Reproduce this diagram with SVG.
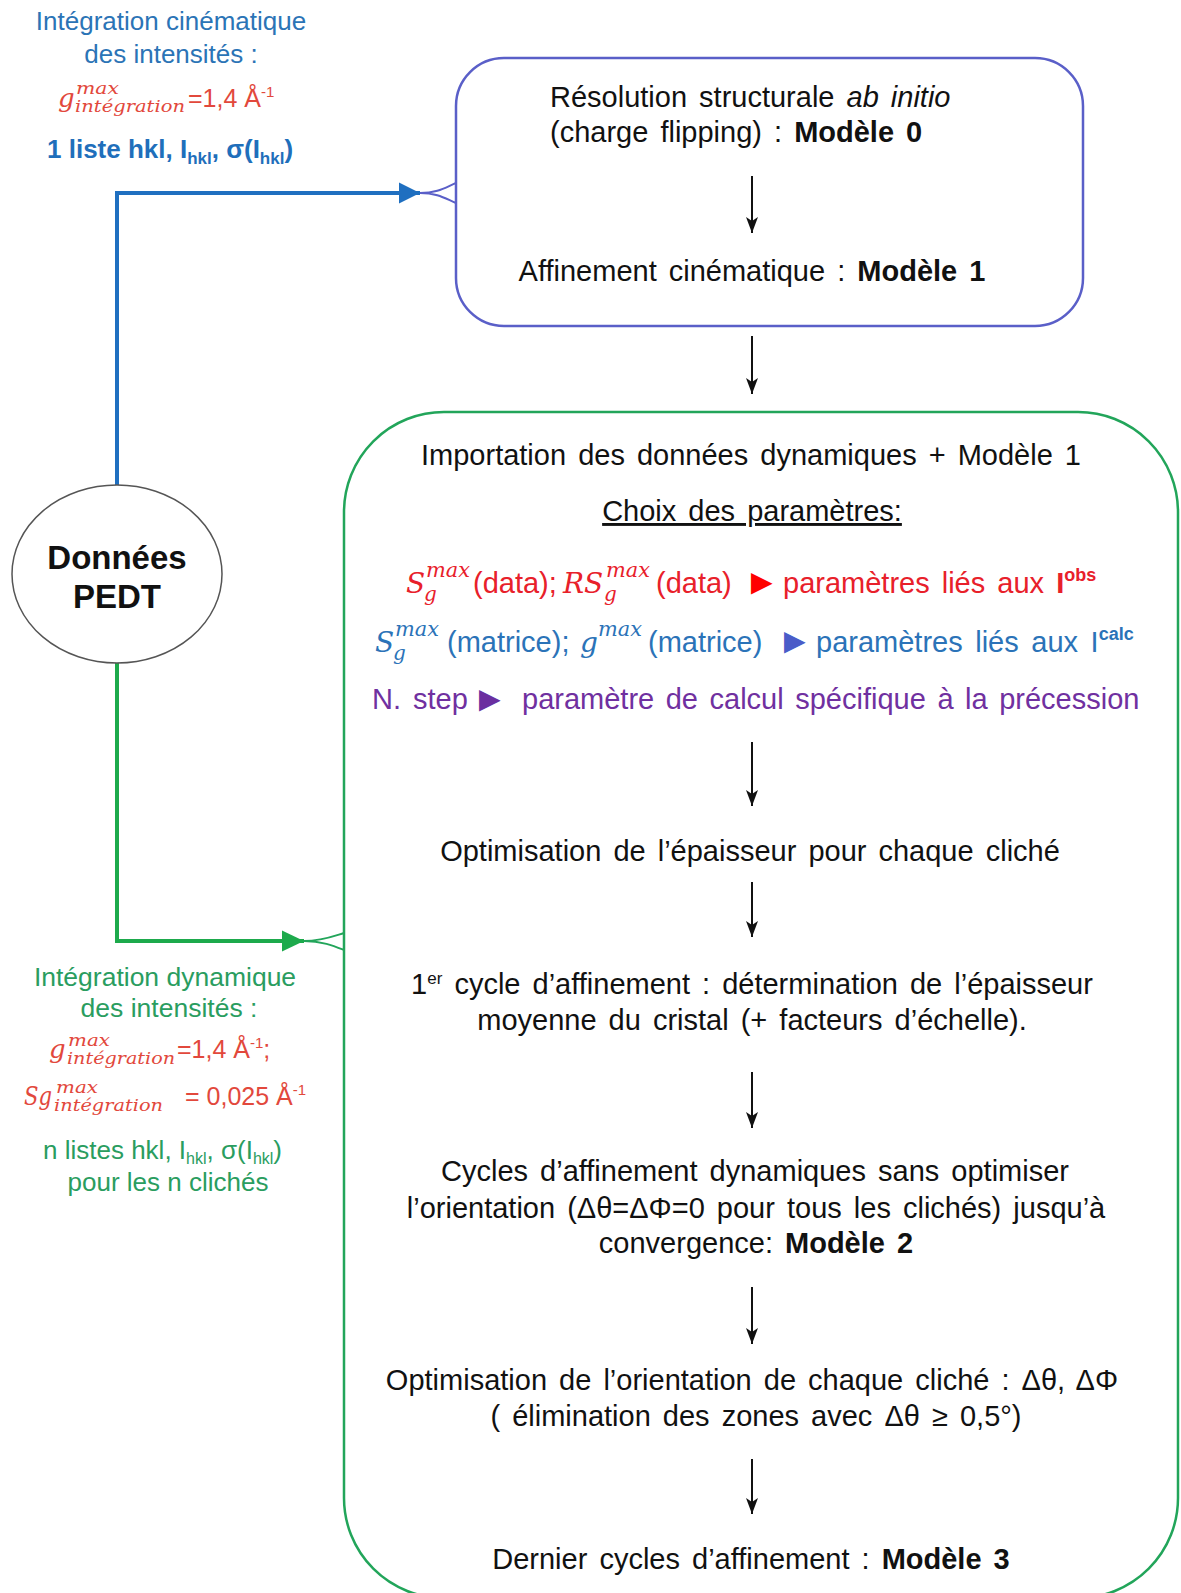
<svg xmlns="http://www.w3.org/2000/svg" width="1181" height="1593" viewBox="0 0 1181 1593">
<defs>
<style>
.t{font-family:"Liberation Sans",Arial,sans-serif;font-size:29px;word-spacing:4px}
.k{fill:#111}
.c{text-anchor:middle}
.b{font-weight:bold}
.m{font-family:"DejaVu Serif","Liberation Serif",serif;font-style:italic}
.lb{font-family:"Liberation Sans",Arial,sans-serif;fill:#2b74b6}
.lg{font-family:"Liberation Sans",Arial,sans-serif;fill:#2a9d5f}
.red{fill:#e2483c}
.rd{fill:#e8202a}
.bl{fill:#2b73b8}
.pu{fill:#7030a0}
.tri{font-family:"Liberation Sans",Arial,sans-serif;font-size:36px}
.arr{stroke:#111;stroke-width:2;fill:none;marker-end:url(#ah)}
</style>
<marker id="ah" markerUnits="userSpaceOnUse" viewBox="-1 -7 18 14" markerWidth="18" markerHeight="14" refX="16" refY="0" orient="auto">
<path d="M0,-6 L16,0 L0,6 L4,0 Z" fill="#111"/>
</marker>
<marker id="bh" markerUnits="userSpaceOnUse" viewBox="0 -11 22 22" markerWidth="22" markerHeight="22" refX="21" refY="0" orient="auto">
<path d="M0,-10.5 L21,0 L0,10.5 Z" fill="#1f6fc0"/>
</marker>
<marker id="gh" markerUnits="userSpaceOnUse" viewBox="0 -11 23 22" markerWidth="23" markerHeight="22" refX="22" refY="0" orient="auto">
<path d="M0,-10.5 L22,0 L0,10.5 Z" fill="#1daa4c"/>
</marker>
</defs>
<rect width="1181" height="1593" fill="#fff"/>

<g id="connectors">
<polyline points="117,486 117,193 420,193" fill="none" stroke="#1f6fc0" stroke-width="4" marker-end="url(#bh)"/>
<path d="M420,193 C438,193 446,187 456,183 M420,193 C438,193 446,199 456,203" fill="none" stroke="#5a5fc8" stroke-width="2"/>
<polyline points="117,662 117,941 304,941" fill="none" stroke="#1daa4c" stroke-width="4" marker-end="url(#gh)"/>
<path d="M304,941 C322,941 334,936 344,933 M304,941 C322,941 334,946 344,950" fill="none" stroke="#22a55a" stroke-width="2"/>
<line class="arr" x1="752" y1="336" x2="752" y2="394"/>
</g>

<g id="node-pedt">
<ellipse cx="117" cy="574" rx="105" ry="89" fill="#fff" stroke="#555" stroke-width="1.5"/>
<text class="t k b c" x="117" y="569" style="font-size:33px">Données</text>
<text class="t k b c" x="117" y="608" style="font-size:33px">PEDT</text>
</g>

<g id="label-cinematique">
<text class="lb c" x="171" y="30" style="font-size:26px">Intégration cinématique</text>
<text class="lb c" x="171" y="63" style="font-size:26px">des intensités :</text>
<text class="m red" x="58" y="107" style="font-size:26px">g</text>
<text class="m red" x="76" y="94" style="font-size:17px" textLength="43" lengthAdjust="spacingAndGlyphs">max</text>
<text class="m red" x="75" y="112" style="font-size:17px" textLength="110" lengthAdjust="spacingAndGlyphs">intégration</text>
<text class="lb red" x="188" y="107" style="font-size:25px">=1,4 Å<tspan font-size="15" dy="-10">-1</tspan></text>
<text class="lb b" x="47" y="158" style="font-size:26px;fill:#1f6fbb">1 liste hkl, I<tspan font-size="17" dy="6">hkl</tspan><tspan dy="-6">, σ(I</tspan><tspan font-size="17" dy="6">hkl</tspan><tspan dy="-6">)</tspan></text>
</g>

<g id="label-dynamique">
<text class="lg c" x="165" y="986" style="font-size:26.5px">Intégration dynamique</text>
<text class="lg c" x="169" y="1017" style="font-size:26.5px">des intensités :</text>
<text class="m red" x="49" y="1058" style="font-size:26px">g</text>
<text class="m red" x="68" y="1046" style="font-size:17px" textLength="42" lengthAdjust="spacingAndGlyphs">max</text>
<text class="m red" x="67" y="1064" style="font-size:17px" textLength="108" lengthAdjust="spacingAndGlyphs">intégration</text>
<text class="lg red" x="177" y="1058" style="font-size:25px">=1,4 Å<tspan font-size="15" dy="-10">-1</tspan><tspan dy="10">;</tspan></text>
<text class="m red" x="24" y="1105" style="font-size:26px" textLength="28" lengthAdjust="spacingAndGlyphs">Sg</text>
<text class="m red" x="56" y="1093" style="font-size:17px" textLength="42" lengthAdjust="spacingAndGlyphs">max</text>
<text class="m red" x="54" y="1111" style="font-size:17px" textLength="109" lengthAdjust="spacingAndGlyphs">intégration</text>
<text class="lg red" x="185" y="1105" style="font-size:25px">= 0,025 Å<tspan font-size="15" dy="-10">-1</tspan></text>
<text class="lg" x="43" y="1159" style="font-size:26px">n listes hkl, I<tspan font-size="16" dy="5">hkl</tspan><tspan dy="-5">, σ(I</tspan><tspan font-size="16" dy="5">hkl</tspan><tspan dy="-5">)</tspan></text>
<text class="lg c" x="168" y="1191" style="font-size:26px">pour les n clichés</text>
</g>

<g id="node-cinematique">
<rect x="456" y="58" width="627" height="268" rx="48" fill="none" stroke="#5a5fc8" stroke-width="2.5"/>
<text class="t k" x="550" y="107">Résolution structurale <tspan font-style="italic">ab initio</tspan></text>
<text class="t k" x="550" y="142">(charge flipping) : <tspan class="b">Modèle 0</tspan></text>
<line class="arr" x1="752" y1="176" x2="752" y2="233"/>
<text class="t k c" x="752" y="281">Affinement cinématique : <tspan class="b">Modèle 1</tspan></text>
</g>

<g id="node-dynamique">
<rect x="344" y="412" width="834" height="1186" rx="100" fill="none" stroke="#22a55a" stroke-width="2.5"/>
<text class="t k c" x="751" y="465">Importation des données dynamiques + Modèle 1</text>
<text class="t k c" x="752" y="521" text-decoration="underline">Choix des paramètres:</text>

<text class="m rd" x="406" y="593" style="font-size:28px">S</text>
<text class="m rd" x="426" y="577" style="font-size:20px" textLength="44" lengthAdjust="spacingAndGlyphs">max</text>
<text class="m rd" x="424" y="601" style="font-size:20px">g</text>
<text class="t rd" x="473" y="593">(data);</text>
<text class="m rd" x="563" y="593" style="font-size:28px">RS</text>
<text class="m rd" x="606" y="577" style="font-size:20px" textLength="44" lengthAdjust="spacingAndGlyphs">max</text>
<text class="m rd" x="604" y="601" style="font-size:20px">g</text>
<text class="t rd" x="656" y="593">(data)</text>
<text class="tri" x="744" y="594" style="fill:#ff0000">►</text>
<text class="t rd" x="783" y="593" style="word-spacing:4px">paramètres liés aux <tspan class="b">I</tspan><tspan class="b" font-size="18" dy="-12">obs</tspan></text>

<text class="m bl" x="375" y="652" style="font-size:28px">S</text>
<text class="m bl" x="395" y="636" style="font-size:20px" textLength="44" lengthAdjust="spacingAndGlyphs">max</text>
<text class="m bl" x="393" y="660" style="font-size:20px">g</text>
<text class="t bl" x="447" y="652">(matrice);</text>
<text class="m bl" x="580" y="652" style="font-size:28px">g</text>
<text class="m bl" x="598" y="636" style="font-size:20px" textLength="44" lengthAdjust="spacingAndGlyphs">max</text>
<text class="t bl" x="648" y="652">(matrice)</text>
<text class="tri" x="777" y="653" style="fill:#4a5cc8">►</text>
<text class="t bl" x="816" y="652" style="word-spacing:4.5px">paramètres liés aux I<tspan class="b" font-size="18" dy="-12">calc</tspan></text>

<text class="t pu" x="372" y="709">N. step</text>
<text class="tri" x="472" y="711" style="fill:#6a2fa0">►</text>
<text class="t pu" x="522" y="709" style="word-spacing:3.5px">paramètre de calcul spécifique à la précession</text>

<line class="arr" x1="752" y1="742" x2="752" y2="806"/>
<text class="t k c" x="750" y="861">Optimisation de l’épaisseur pour chaque cliché</text>
<line class="arr" x1="752" y1="882" x2="752" y2="937"/>
<text class="t k c" x="752" y="994">1<tspan font-size="17" dy="-10">er</tspan><tspan dy="10"> cycle d’affinement : détermination de l’épaisseur</tspan></text>
<text class="t k c" x="752" y="1030">moyenne du cristal (+ facteurs d’échelle).</text>
<line class="arr" x1="752" y1="1072" x2="752" y2="1128"/>
<text class="t k c" x="755" y="1181">Cycles d’affinement dynamiques sans optimiser</text>
<text class="t k c" x="756" y="1218">l’orientation (Δθ=ΔΦ=0 pour tous les clichés) jusqu’à</text>
<text class="t k c" x="756" y="1253">convergence: <tspan class="b">Modèle 2</tspan></text>
<line class="arr" x1="752" y1="1287" x2="752" y2="1344"/>
<text class="t k c" x="752" y="1390">Optimisation de l’orientation de chaque cliché :  Δθ, ΔΦ</text>
<text class="t k c" x="756" y="1426">( élimination des zones avec Δθ ≥ 0,5°)</text>
<line class="arr" x1="752" y1="1459" x2="752" y2="1514"/>
<text class="t k c" x="751" y="1569">Dernier cycles d’affinement : <tspan class="b">Modèle 3</tspan></text>
</g>
</svg>
